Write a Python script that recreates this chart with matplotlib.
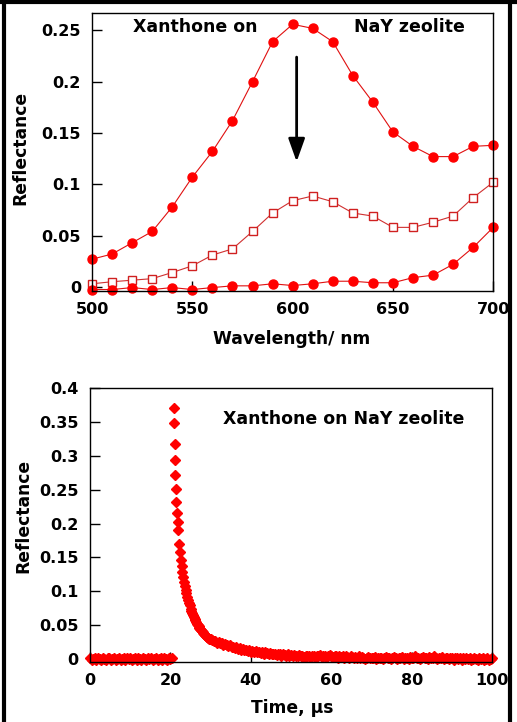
import matplotlib.pyplot as plt
import numpy as np
from matplotlib.lines import Line2D

# ---- top panel: reflectance spectra ----
wavelength = np.arange(500, 710, 10)
spec_initial = [0.027, 0.032, 0.043, 0.054, 0.078, 0.107, 0.132, 0.162, 0.200, 0.239, 0.256,
                0.252, 0.239, 0.206, 0.180, 0.151, 0.137, 0.127, 0.127, 0.137, 0.138]
spec_middle = [0.003, 0.005, 0.0065, 0.008, 0.014, 0.0205, 0.031, 0.037, 0.054, 0.072, 0.084,
               0.0886, 0.083, 0.072, 0.069, 0.058, 0.058, 0.063, 0.069, 0.087, 0.102]
spec_final = [-0.0026, -0.0026, -0.0007, -0.0026, -0.0007, -0.0026, -0.0007, 0.001, 0.001, 0.003, 0.0013,
              0.003, 0.0055, 0.0055, 0.004, 0.004, 0.009, 0.0114, 0.022, 0.0385, 0.058]

# ---- bottom panel: transient decay ----
t_base = np.arange(0, 20.41, 0.4)
r_base = [0.001, -0.001, 0.000, 0.002, -0.002, 0.001, 0.000, -0.001, 0.002, 0.000,
          -0.001, 0.001, 0.002, -0.002, 0.000, 0.001, -0.001, 0.000, 0.002, -0.001,
          0.000, 0.001, -0.002, 0.001, 0.000, 0.002, -0.001, 0.000, 0.001, -0.002,
          0.001, 0.000, -0.001, 0.002, 0.000, -0.001, 0.001, 0.000, 0.002, -0.001,
          0.000, 0.001, -0.002, 0.000, 0.001, -0.001, 0.002, 0.000, -0.001, 0.001,
          0.000, 0.001]

t_peak = [20.9, 20.9, 21.1, 21.1, 21.1, 21.3, 21.4, 21.7, 21.8, 22.0]
r_peak = [0.370, 0.348, 0.318, 0.294, 0.272, 0.251, 0.232, 0.215, 0.203, 0.190]

t_fast = np.arange(22.2, 30.01, 0.2)
r_fast = [0.170, 0.158, 0.146, 0.137, 0.128, 0.121, 0.114, 0.108, 0.102, 0.097,
          0.092, 0.087, 0.083, 0.079, 0.074, 0.071, 0.068, 0.065, 0.062, 0.059,
          0.057, 0.054, 0.052, 0.050, 0.048, 0.046, 0.044, 0.043, 0.041, 0.040,
          0.038, 0.037, 0.035, 0.034, 0.033, 0.032, 0.031, 0.030, 0.030, 0.029]

t_slow = np.arange(30.4, 100.01, 0.4)
r_slow = [0.028, 0.026, 0.027, 0.024, 0.025, 0.023, 0.024, 0.021, 0.022, 0.020,
          0.019, 0.020, 0.017, 0.018, 0.016, 0.017, 0.015, 0.016, 0.014, 0.015,
          0.013, 0.014, 0.012, 0.013, 0.011, 0.012, 0.010, 0.012, 0.010, 0.011,
          0.009, 0.010, 0.008, 0.010, 0.009, 0.007, 0.009, 0.008, 0.007, 0.008,
          0.006, 0.008, 0.007, 0.005, 0.007, 0.006, 0.005, 0.007, 0.005, 0.006,
          0.004, 0.006, 0.005, 0.004, 0.006, 0.004, 0.005, 0.003, 0.005, 0.004,
          0.005, 0.003, 0.005, 0.004, 0.003, 0.005, 0.004, 0.006, 0.003, 0.004,
          0.005, 0.003, 0.004, 0.006, 0.004, 0.003, 0.005, 0.004, 0.002, 0.004,
          0.003, 0.005, 0.002, 0.004, 0.003, 0.002, 0.004, 0.003, 0.001, 0.003,
          0.002, 0.004, 0.001, 0.003, 0.002, 0.000, 0.002, 0.003, 0.001, 0.002,
          0.001, 0.003, 0.000, 0.002, 0.001, 0.002, 0.000, 0.001, 0.003, 0.001,
          0.002, 0.000, 0.001, 0.003, 0.001, 0.000, 0.002, 0.001, 0.003, 0.000,
          0.001, 0.002, 0.000, 0.003, 0.002, 0.001, 0.004, 0.001, 0.002, 0.000,
          0.002, 0.003, 0.001, 0.002, 0.000, 0.003, 0.001, 0.002, 0.004, 0.001,
          0.000, 0.002, 0.001, 0.003, 0.000, 0.001, 0.002, 0.000, 0.002, 0.001,
          -0.001, 0.001, 0.002, 0.000, 0.001, -0.001, 0.002, 0.000, 0.001, 0.000,
          0.001, -0.001, 0.000, 0.002, 0.000, -0.001, 0.001, 0.000, 0.002, -0.001,
          0.000, 0.001, -0.001, 0.000, 0.001]

plt.rcParams['font.family'] = ['DejaVu Sans']
plt.rcParams['font.weight'] = 'bold'
plt.rcParams['font.size'] = 11.5

LABEL_FS = 12.3
NOTE_FS = 12.5

fig = plt.figure(figsize=(5.17, 7.22), dpi=100)

# outer frame (left, top, right)
fig.add_artist(Line2D([3.5 / 517, 3.5 / 517], [0, 1], color='black', lw=3))
fig.add_artist(Line2D([0, 1], [1 - 2 / 722, 1 - 2 / 722], color='black', lw=3))
fig.add_artist(Line2D([509.5 / 517, 509.5 / 517], [0, 1], color='black', lw=3))


def style_axes(ax):
    ax.tick_params(direction='in', length=7, width=1, pad=8, top=False, right=False)
    for s in ax.spines.values():
        s.set_linewidth(1)


ax1 = fig.add_axes([0.178, 0.597, 0.776, 0.385])
ax1.plot(wavelength, spec_initial, '-o', color='#e01010', lw=0.8, ms=6.5, mfc='red', mec='red', clip_on=False)
ax1.plot(wavelength, spec_middle, '-s', color='#d03030', lw=0.8, ms=5.5, mfc='white', mec='#d02020',
         mew=1, clip_on=False)
ax1.plot(wavelength, spec_final, '-o', color='#e01010', lw=0.8, ms=6.5, mfc='red', mec='red', clip_on=False)
ax1.set_xlim(500, 700)
ax1.set_ylim(-0.004, 0.267)
ax1.set_xticks([500, 550, 600, 650, 700])
ax1.set_yticks([0, 0.05, 0.1, 0.15, 0.2, 0.25])
ax1.set_yticklabels(['0', '0.05', '0.1', '0.15', '0.2', '0.25'])
style_axes(ax1)
ax1.set_xlabel('Wavelength/ nm', fontweight='bold', fontsize=LABEL_FS)
ax1.set_ylabel('Reflectance', fontweight='bold', fontsize=LABEL_FS)
ax1.xaxis.set_label_coords(0.497, -0.14)
ax1.yaxis.set_label_coords(-0.157, 0.516)
ax1.text(520.4, 0.253, 'Xanthone on', fontweight='bold', va='center', ha='left', fontsize=NOTE_FS)
ax1.text(630.7, 0.253, 'NaY zeolite', fontweight='bold', va='center', ha='left', fontsize=NOTE_FS)
ax1.annotate('', xy=(602, 0.122), xytext=(602, 0.224),
             arrowprops=dict(arrowstyle='-|>,head_length=1.4,head_width=0.5', color='black',
                             lw=2, mutation_scale=10, shrinkA=0, shrinkB=0))

ax2 = fig.add_axes([0.174, 0.0835, 0.778, 0.379])
for tt, rr in [(t_base, r_base), (t_peak, r_peak), (t_fast, r_fast), (t_slow, r_slow)]:
    ax2.plot(tt, rr, 'D', color='red', ms=4.6, mec='red', clip_on=False, ls='none')
ax2.set_xlim(0, 100)
ax2.set_ylim(-0.004, 0.4)
ax2.set_xticks([0, 20, 40, 60, 80, 100])
ax2.set_yticks([0, 0.05, 0.1, 0.15, 0.2, 0.25, 0.3, 0.35, 0.4])
ax2.set_yticklabels(['0', '0.05', '0.1', '0.15', '0.2', '0.25', '0.3', '0.35', '0.4'])
style_axes(ax2)
ax2.set_xlabel('Time, µs', fontweight='bold', fontsize=LABEL_FS)
ax2.set_ylabel('Reflectance', fontweight='bold', fontsize=LABEL_FS)
ax2.xaxis.set_label_coords(0.502, -0.136)
ax2.yaxis.set_label_coords(-0.142, 0.532)
ax2.text(33.0, 0.354, 'Xanthone on NaY zeolite', fontweight='bold', va='center', ha='left', fontsize=NOTE_FS)

fig.savefig('out.png', dpi=100)
